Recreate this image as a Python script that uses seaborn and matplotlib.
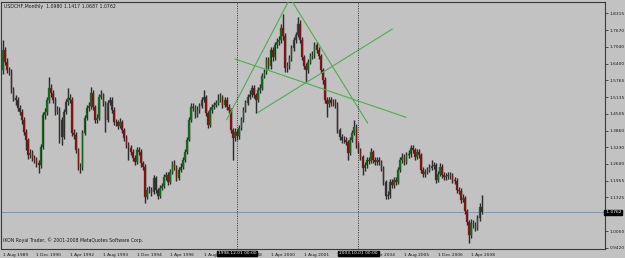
import numpy as np
import pandas as pd
import matplotlib
matplotlib.use("Agg")
import matplotlib.pyplot as plt
import matplotlib.transforms as mtransforms
import seaborn as sns

# ---------------- data (monthly USDCHF, Aug 1989 .. Sep 2008) ----------------
START_MONTH = "1989-08-01"
FIRST_OPEN = 1.616
CLOSE = [1.692, 1.647, 1.616, 1.609, 1.540, 1.510, 1.502, 1.472, 1.457, 1.427,
         1.381, 1.351, 1.294, 1.301, 1.282, 1.275, 1.263, 1.256, 1.324, 1.446,
         1.457, 1.502, 1.548, 1.529, 1.502, 1.457, 1.465, 1.427, 1.362, 1.457,
         1.495, 1.510, 1.502, 1.377, 1.370, 1.313, 1.248, 1.244, 1.377, 1.434,
         1.472, 1.480, 1.529, 1.476, 1.427, 1.434, 1.514, 1.521, 1.491, 1.427,
         1.491, 1.502, 1.465, 1.419, 1.419, 1.404, 1.419, 1.389, 1.358, 1.332,
         1.320, 1.305, 1.282, 1.267, 1.313, 1.305, 1.263, 1.248, 1.134, 1.161,
         1.161, 1.153, 1.206, 1.161, 1.138, 1.169, 1.176, 1.210, 1.218, 1.191,
         1.229, 1.260, 1.244, 1.206, 1.237, 1.248, 1.275, 1.305, 1.351, 1.427,
         1.476, 1.472, 1.446, 1.465, 1.480, 1.502, 1.514, 1.453, 1.408, 1.465,
         1.476, 1.484, 1.491, 1.502, 1.514, 1.484, 1.502, 1.476, 1.465, 1.389,
         1.358, 1.381, 1.366, 1.396, 1.427, 1.465, 1.491, 1.514, 1.521, 1.548,
         1.521, 1.502, 1.540, 1.548, 1.594, 1.609, 1.654, 1.632, 1.692, 1.666,
         1.711, 1.723, 1.730, 1.776, 1.745, 1.624, 1.632, 1.662, 1.700, 1.730,
         1.749, 1.791, 1.730, 1.666, 1.632, 1.616, 1.647, 1.669, 1.673, 1.711,
         1.692, 1.669, 1.616, 1.578, 1.502, 1.487, 1.502, 1.491, 1.495, 1.484,
         1.389, 1.362, 1.351, 1.351, 1.343, 1.301, 1.351, 1.377, 1.400, 1.332,
         1.313, 1.286, 1.244, 1.256, 1.275, 1.271, 1.305, 1.275, 1.267, 1.275,
         1.267, 1.244, 1.191, 1.138, 1.142, 1.191, 1.180, 1.199, 1.191, 1.237,
         1.275, 1.286, 1.267, 1.294, 1.298, 1.320, 1.313, 1.286, 1.305, 1.294,
         1.237, 1.222, 1.229, 1.237, 1.244, 1.252, 1.256, 1.199, 1.222, 1.248,
         1.218, 1.210, 1.214, 1.218, 1.214, 1.199, 1.195, 1.161, 1.158, 1.123,
         1.131, 1.081, 1.040, 0.990, 1.036, 1.028, 1.017, 1.055, 1.098, 1.0762]
HIGH = [1.730, 1.705, 1.660, 1.628, 1.620, 1.552, 1.522, 1.512, 1.484, 1.468,
        1.438, 1.392, 1.360, 1.318, 1.312, 1.292, 1.286, 1.275, 1.336, 1.458,
        1.472, 1.515, 1.590, 1.565, 1.540, 1.512, 1.480, 1.475, 1.438, 1.468,
        1.508, 1.548, 1.525, 1.512, 1.392, 1.380, 1.322, 1.262, 1.390, 1.446,
        1.485, 1.495, 1.552, 1.540, 1.485, 1.448, 1.525, 1.540, 1.530, 1.500,
        1.502, 1.515, 1.512, 1.475, 1.432, 1.428, 1.434, 1.428, 1.398, 1.368,
        1.342, 1.330, 1.315, 1.292, 1.325, 1.325, 1.315, 1.272, 1.258, 1.172,
        1.175, 1.172, 1.218, 1.215, 1.170, 1.180, 1.188, 1.222, 1.230, 1.228,
        1.240, 1.272, 1.275, 1.255, 1.248, 1.262, 1.286, 1.316, 1.362, 1.438,
        1.490, 1.492, 1.482, 1.478, 1.492, 1.515, 1.540, 1.522, 1.462, 1.476,
        1.488, 1.496, 1.502, 1.525, 1.528, 1.522, 1.514, 1.512, 1.488, 1.474,
        1.398, 1.395, 1.392, 1.408, 1.438, 1.476, 1.502, 1.525, 1.540, 1.560,
        1.558, 1.530, 1.552, 1.562, 1.606, 1.622, 1.666, 1.666, 1.705, 1.702,
        1.724, 1.738, 1.745, 1.790, 1.829, 1.758, 1.645, 1.675, 1.712, 1.742,
        1.762, 1.817, 1.805, 1.740, 1.675, 1.642, 1.658, 1.680, 1.688, 1.724,
        1.722, 1.702, 1.678, 1.625, 1.588, 1.512, 1.515, 1.512, 1.508, 1.506,
        1.494, 1.398, 1.372, 1.365, 1.362, 1.352, 1.362, 1.390, 1.427, 1.410,
        1.342, 1.322, 1.295, 1.268, 1.286, 1.285, 1.320, 1.314, 1.286, 1.288,
        1.286, 1.276, 1.252, 1.200, 1.158, 1.202, 1.202, 1.210, 1.210, 1.248,
        1.288, 1.300, 1.298, 1.306, 1.312, 1.332, 1.330, 1.322, 1.318, 1.315,
        1.302, 1.248, 1.240, 1.250, 1.258, 1.275, 1.268, 1.265, 1.234, 1.263,
        1.258, 1.228, 1.225, 1.230, 1.228, 1.224, 1.210, 1.205, 1.172, 1.168,
        1.145, 1.140, 1.090, 1.048, 1.050, 1.048, 1.040, 1.065, 1.110, 1.1417]
LOW = [1.600, 1.635, 1.604, 1.597, 1.528, 1.498, 1.485, 1.460, 1.445, 1.412,
       1.370, 1.313, 1.280, 1.282, 1.270, 1.262, 1.250, 1.225, 1.245, 1.318,
       1.430, 1.445, 1.492, 1.515, 1.490, 1.445, 1.448, 1.339, 1.332, 1.355,
       1.448, 1.485, 1.490, 1.365, 1.355, 1.300, 1.236, 1.225, 1.235, 1.368,
       1.425, 1.462, 1.470, 1.465, 1.415, 1.415, 1.425, 1.505, 1.480, 1.381,
       1.418, 1.482, 1.455, 1.408, 1.405, 1.392, 1.395, 1.378, 1.346, 1.320,
       1.275, 1.292, 1.270, 1.255, 1.258, 1.292, 1.250, 1.236, 1.112, 1.125,
       1.148, 1.140, 1.145, 1.150, 1.127, 1.130, 1.160, 1.168, 1.200, 1.180,
       1.182, 1.220, 1.235, 1.195, 1.198, 1.228, 1.240, 1.268, 1.298, 1.345,
       1.420, 1.460, 1.435, 1.438, 1.455, 1.472, 1.495, 1.442, 1.396, 1.400,
       1.455, 1.468, 1.475, 1.482, 1.495, 1.472, 1.476, 1.465, 1.452, 1.378,
       1.275, 1.345, 1.352, 1.356, 1.388, 1.418, 1.456, 1.482, 1.505, 1.512,
       1.510, 1.453, 1.495, 1.530, 1.540, 1.585, 1.600, 1.620, 1.622, 1.652,
       1.655, 1.700, 1.712, 1.720, 1.732, 1.609, 1.610, 1.622, 1.652, 1.690,
       1.720, 1.740, 1.718, 1.655, 1.620, 1.571, 1.605, 1.638, 1.658, 1.662,
       1.680, 1.658, 1.605, 1.565, 1.490, 1.438, 1.476, 1.480, 1.480, 1.472,
       1.378, 1.350, 1.340, 1.338, 1.330, 1.275, 1.292, 1.342, 1.368, 1.320,
       1.300, 1.275, 1.218, 1.232, 1.246, 1.260, 1.262, 1.264, 1.256, 1.256,
       1.256, 1.232, 1.180, 1.127, 1.127, 1.132, 1.168, 1.170, 1.180, 1.182,
       1.228, 1.265, 1.255, 1.258, 1.284, 1.288, 1.300, 1.275, 1.278, 1.283,
       1.226, 1.210, 1.212, 1.220, 1.228, 1.235, 1.240, 1.188, 1.190, 1.215,
       1.208, 1.198, 1.200, 1.204, 1.202, 1.188, 1.184, 1.150, 1.145, 1.110,
       1.115, 1.070, 1.028, 0.960, 0.980, 1.015, 1.005, 1.008, 1.045, 1.0687]

# price-scale labels shown on the right
Y_TICKS = [1.8315, 1.7670, 1.7040, 1.6400, 1.5765, 1.5135, 1.4505, 1.3860,
           1.3230, 1.2600, 1.1955, 1.1325, 1.0050, 0.9420]
LAST_PRICE = 1.0762
HEADER = "USDCHF,Monthly  1.0980 1.1417 1.0687 1.0762"
FOOTER = "IKON Royal Trader, \u00a9 2001-2008 MetaQuotes Software Corp."
# vertical marker lines (dates) with their time labels
MARK_DATES = ["1998-12-01", "2003-10-01"]
MARK_LABELS = ["1998.12.01 00:00", "2003.10.01 00:00"]
# hand-drawn trend lines: (start bar, start price, end bar, end price)
TL_X0 = [107.0, 138.4, 111.0, 121.8]
TL_Y0 = [1.427, 1.8756, 1.6581, 1.4543]
TL_X1 = [136.5, 174.5, 192.8, 186.3]
TL_Y1 = [1.8756, 1.4141, 1.4369, 1.7720]
LABEL_EVERY = 16

# ---------------- build frame ----------------
months = pd.date_range(START_MONTH, periods=len(CLOSE), freq="MS")
df = pd.DataFrame({"date": months, "close": CLOSE, "high": HIGH, "low": LOW})
df["open"] = [FIRST_OPEN] + CLOSE[:-1]
df["bar"] = np.arange(len(df))
up = df["close"] >= df["open"]

BG = "#c2c2c2"
sns.set_style("white")
plt.rcParams["font.family"] = ["DejaVu Sans"]

W, H = 625, 258
fig = plt.figure(figsize=(W / 100, H / 100), dpi=100, facecolor=BG)
left_px, right_px, top_px, bot_px = 1.5, 605.0, 2.0, 248.5
ax = fig.add_axes([left_px / W, 1 - bot_px / H, (right_px - left_px) / W,
                   (bot_px - top_px) / H])
ax.set_facecolor(BG)

# axis limits (bar spacing ~2.09 px)
ax.set_xlim(-0.72, 288.0)
ax.set_ylim(0.9389, 1.8744)

# candles: halo, wick, body
ax.vlines(df["bar"], df["low"], df["high"], color="#9c9c9c", lw=2.0, zorder=2)
ax.vlines(df["bar"], df["low"], df["high"], color="#2a2a2a", lw=0.7, zorder=3)
body_h = (df["close"] - df["open"]).abs().clip(lower=0.0015)
body_b = np.minimum(df["close"], df["open"])
ax.bar(df["bar"][up], body_h[up], bottom=body_b[up], width=0.72,
       color="#0f6e1a", edgecolor="#2f4f2f", linewidth=0.2, zorder=4)
ax.bar(df["bar"][~up], body_h[~up], bottom=body_b[~up], width=0.72,
       color="#8c0f0f", edgecolor="#4f2f2f", linewidth=0.2, zorder=4)

# trend lines with seaborn
tl = pd.DataFrame({
    "bar": TL_X0 + TL_X1,
    "price": TL_Y0 + TL_Y1,
    "line": list(range(len(TL_X0))) * 2,
})
sns.lineplot(data=tl, x="bar", y="price", units="line", estimator=None,
             color="#4fae4f", lw=0.8, ax=ax, zorder=5, legend=False)

# current price line
ax.axhline(LAST_PRICE, color="#8595aa", lw=0.7, zorder=1)

# vertical dotted markers
mark_bars = [months.get_loc(pd.Timestamp(d)) for d in MARK_DATES]
for b in mark_bars:
    ax.axvline(b, color="#202020", lw=0.6, ls=(0, (1.2, 1.6)), zorder=6)

# spines
for s in ["top", "right", "bottom", "left"]:
    ax.spines[s].set_color("#3a3a3a")
    ax.spines[s].set_linewidth(0.8)

# y axis on the right
ax.yaxis.tick_right()
ax.set_yticks(Y_TICKS)
ax.set_yticklabels([f"{v:.4f}" for v in Y_TICKS])
ax.tick_params(axis="y", direction="out", length=2.0, width=0.5, pad=1.5,
               labelsize=3.2, colors="#1a1a1a")
ax.text(1.0, LAST_PRICE, f" {LAST_PRICE:.4f}",
        transform=mtransforms.blended_transform_factory(ax.transAxes, ax.transData),
        ha="left", va="center", fontsize=3.2, color="white", zorder=10,
        clip_on=False,
        bbox=dict(boxstyle="square,pad=0.15", fc="black", ec="black"))

# x axis labels
tick_bars = list(range(0, len(df), LABEL_EVERY))
ax.set_xticks(tick_bars)
ax.set_xticklabels([f"1 {months[b].strftime('%b %Y')}" for b in tick_bars])
for lbl in ax.get_xticklabels():
    lbl.set_ha("left")
ax.tick_params(axis="x", direction="out", length=2.0, width=0.5, pad=1.0,
               labelsize=3.2, colors="#1a1a1a")
ax.set_xlabel("")
ax.set_ylabel("")

# time boxes over the axis
bt = mtransforms.blended_transform_factory(ax.transData, ax.transAxes)
for b, txt in zip(mark_bars, MARK_LABELS):
    ax.text(b, -0.012, txt, transform=bt, ha="center", va="top", fontsize=3.2,
            color="white", zorder=10, clip_on=False,
            bbox=dict(boxstyle="square,pad=0.2", fc="black", ec="black"))

# header and footer text
ax.text(0.004, 0.99, HEADER, transform=ax.transAxes, ha="left", va="top",
        fontsize=3.3, color="#1a1a1a", zorder=10)
ax.text(0.003, 0.022, FOOTER, transform=ax.transAxes, ha="left", va="bottom",
        fontsize=3.3, color="#1a1a1a", zorder=10)

fig.savefig("out.png", dpi=100, facecolor=BG)
